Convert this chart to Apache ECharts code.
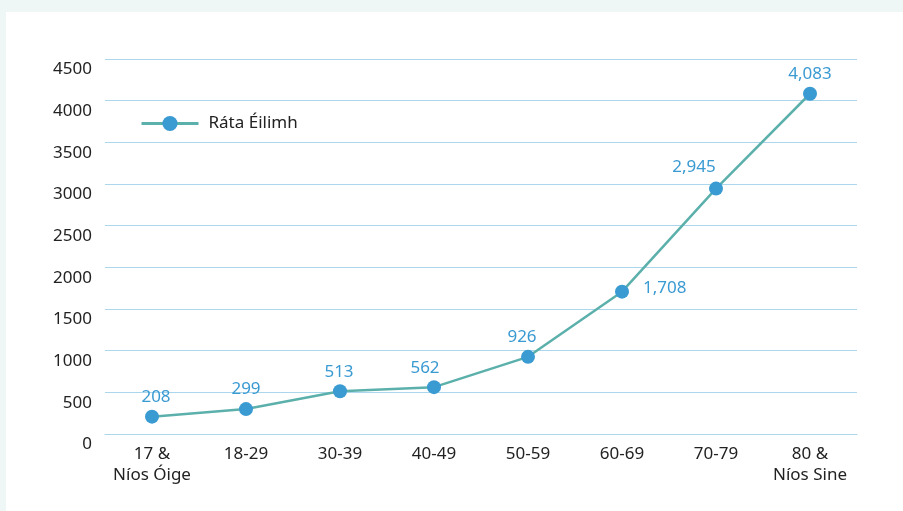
<!DOCTYPE html>
<html>
<head>
<meta charset="utf-8">
<script src="https://cdn.jsdelivr.net/npm/echarts@6/dist/echarts.min.js"></script>
<style>
html,body{margin:0;padding:0;background:#eef7f6;}
#wrap{position:absolute;left:6px;top:12px;right:0;bottom:0;background:#ffffff;}
#chart{position:absolute;left:-6px;top:-12px;width:903px;height:511px;}
</style>
</head>
<body>
<div id="wrap"><div id="chart"></div></div>
<script>
const categories = ['17 &\nNíos Óige', '18-29', '30-39', '40-49', '50-59', '60-69', '70-79', '80 &\nNíos Sine'];
const values = [208, 299, 513, 562, 926, 1708, 2945, 4083];
const seriesName = 'Ráta Éilimh';
const yMin = 0, yMax = 4500, yStep = 500;

const FONT = "'Noto Sans', 'Open Sans', sans-serif";
const blue = '#3a9ad2';
const teal = '#5cb0ac';
const gridBlue = '#abd6ec';

// label placement tweaks (layout only)
const labelTweak = {
  0: {offset: [4, 0]},
  2: {offset: [-1, 0]},
  3: {offset: [-9, 0]},
  4: {offset: [-6, 0]},
  5: {position: 'right', distance: 14, offset: [0, -4]},
  6: {offset: [-22, -2]}
};

const seriesData = values.map((v, i) => {
  const d = {value: v};
  if (labelTweak[i]) d.label = labelTweak[i];
  return d;
});

const chart = echarts.init(document.getElementById('chart'), null, {renderer: 'canvas'});
chart.setOption({
  backgroundColor: 'transparent',
  animation: false,
  grid: {left: 105, right: 46, top: 59, bottom: 77, containLabel: false},
  legend: {
    left: 140, top: 115, padding: 0,
    itemWidth: 57, itemHeight: 19,
    lineStyle: {width: 3},
    textStyle: {fontFamily: FONT, fontSize: 17, color: '#222', padding: [0, 0, 0, 5]},
    data: [seriesName]
  },
  xAxis: {
    type: 'category',
    data: categories,
    boundaryGap: true,
    axisLine: {show: true, lineStyle: {color: gridBlue, width: 1}},
    axisTick: {show: false},
    axisLabel: {fontFamily: FONT, fontSize: 17, color: '#222', lineHeight: 21, margin: 10, interval: 0}
  },
  yAxis: {
    type: 'value',
    min: yMin, max: yMax, interval: yStep,
    axisLine: {show: false},
    axisTick: {show: false},
    splitLine: {lineStyle: {color: gridBlue, width: 1}},
    axisLabel: {fontFamily: FONT, fontSize: 17, color: '#222', margin: 13, verticalAlign: 'top', padding: [2, 0, 0, 0],
      formatter: v => String(v)}
  },
  series: [{
    name: seriesName,
    type: 'line',
    data: seriesData,
    symbol: 'circle',
    symbolSize: 14,
    lineStyle: {color: teal, width: 2.5},
    itemStyle: {color: blue},
    label: {
      show: true, position: 'top', distance: 4,
      fontFamily: FONT, fontSize: 17, color: blue,
      formatter: p => p.value.toLocaleString('en-US')
    }
  }]
});
</script>
</body>
</html>
